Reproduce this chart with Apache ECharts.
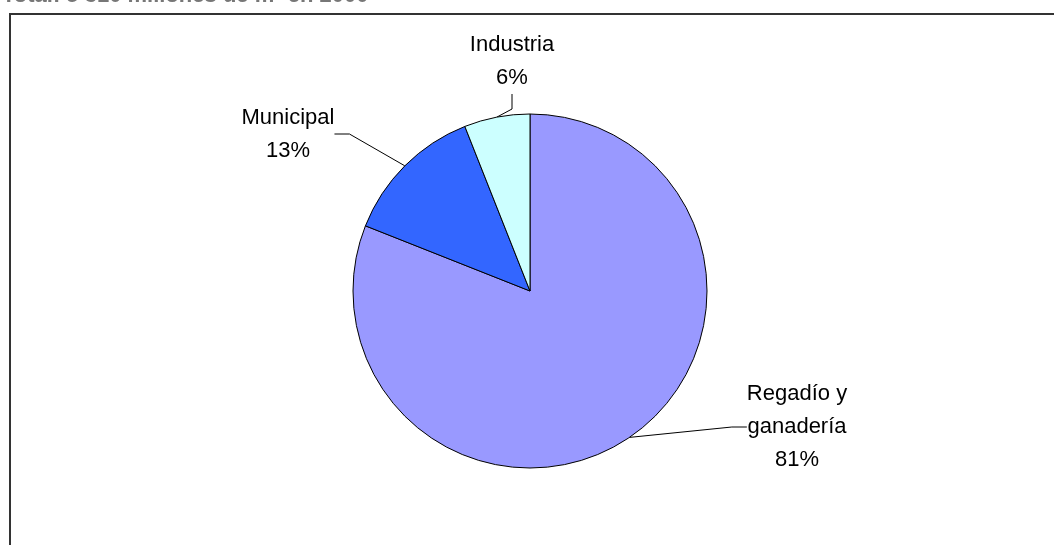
<!DOCTYPE html>
<html><head><meta charset="utf-8">
<script src="https://cdn.jsdelivr.net/npm/echarts@6/dist/echarts.min.js"></script>
<style>html,body{margin:0;padding:0;background:#fff}#c{width:1054px;height:545px}</style>
</head><body><div id="c"></div>
<script>
const categories = ['Regadío y\nganadería', 'Municipal', 'Industria'];
const values = [81, 13, 6];
const colors = ['#9999FF', '#3366FF', '#CCFFFF'];
const titleText = 'Total: 5 310 millones de m³ en 2000';

const labelPos = [
  {x: 797, y: 427},
  {x: 288, y: 134},
  {x: 512, y: 61}
];

const chart = echarts.init(document.getElementById('c'));
chart.setOption({
  backgroundColor: '#fff',
  animation: false,
  graphic: [
    {type: 'rect', shape: {x: 10, y: 14, width: 1060, height: 560}, style: {fill: 'none', stroke: '#333', lineWidth: 2}},
    {type: 'text', left: 2, top: -15.5, style: {text: titleText, font: 'bold 22px "Liberation Sans", Arial, sans-serif', fill: '#777'}}
  ],
  series: [{
    type: 'pie',
    center: [530, 291],
    radius: 177,
    startAngle: 90,
    clockwise: true,
    data: categories.map((c, i) => ({name: c, value: values[i], itemStyle: {color: colors[i]}})),
    itemStyle: {borderColor: '#000', borderWidth: 1},
    label: {
      show: true,
      formatter: p => p.name + '\n' + Math.round(p.percent) + '%',
      color: '#000',
      fontFamily: '"Liberation Sans", Arial, sans-serif',
      fontSize: 22,
      lineHeight: 33,
      align: 'center'
    },
    labelLine: {show: true, length: 15, length2: 15, lineStyle: {color: '#000', width: 1}},
    labelLayout: function (params) {
      const p = labelPos[params.dataIndex];
      return {x: p.x, y: p.y, align: 'center', verticalAlign: 'middle'};
    },
    emphasis: {disabled: true}
  }]
});
</script></body></html>
